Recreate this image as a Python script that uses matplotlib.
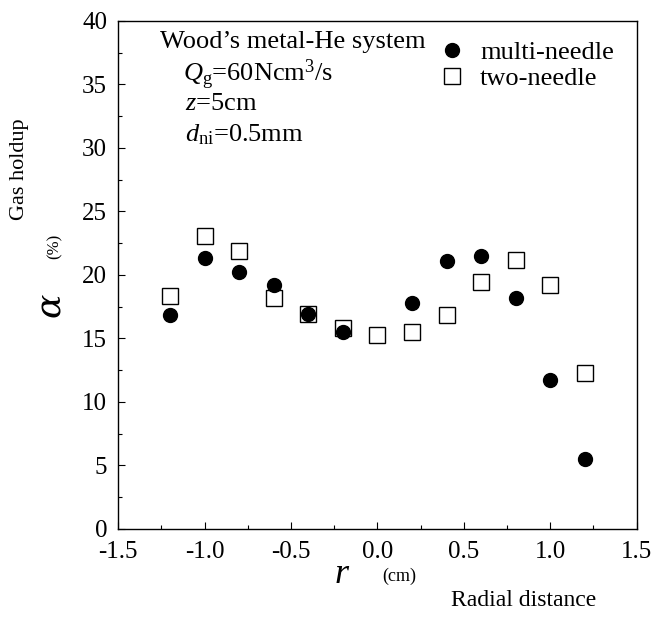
import matplotlib
matplotlib.use("Agg")
import matplotlib.pyplot as plt
from matplotlib.ticker import MultipleLocator, FormatStrFormatter

plt.rcParams["font.family"] = ["Liberation Serif", "DejaVu Serif"]
plt.rcParams["mathtext.fontset"] = "custom"
plt.rcParams["mathtext.rm"] = "Liberation Serif"
plt.rcParams["mathtext.it"] = "Liberation Serif:italic"

# radial positions (cm) and gas holdup (%)
r_multi = [-1.2, -1.0, -0.8, -0.6, -0.4, -0.2, 0.2, 0.4, 0.6, 0.8, 1.0, 1.2]
alpha_multi = [16.8, 21.3, 20.2, 19.2, 16.9, 15.5, 17.8, 21.1, 21.5, 18.2, 11.7, 5.5]

r_two = [-1.2, -1.0, -0.8, -0.6, -0.4, -0.2, 0.0, 0.2, 0.4, 0.6, 0.8, 1.0, 1.2]
alpha_two = [18.3, 23.1, 21.9, 18.2, 16.9, 15.8, 15.3, 15.5, 16.8, 19.4, 21.2, 19.2, 12.3]

fig = plt.figure(figsize=(6.53, 6.17), dpi=100)
ax = fig.add_axes([0.181, 0.143, 0.794, 0.823])

ax.plot(r_multi, alpha_multi, "o", color="black", markersize=10,
        linestyle="none", label="multi-needle", zorder=3)
ax.plot(r_two, alpha_two, "s", markerfacecolor="white", markeredgecolor="black",
        markeredgewidth=1.0, markersize=11, linestyle="none",
        label="two-needle", zorder=2)

ax.set_xlim(-1.5, 1.5)
ax.set_ylim(0, 40)
ax.xaxis.set_major_locator(MultipleLocator(0.5))
ax.xaxis.set_minor_locator(MultipleLocator(0.25))
ax.yaxis.set_major_locator(MultipleLocator(5))
ax.yaxis.set_minor_locator(MultipleLocator(2.5))
ax.xaxis.set_major_formatter(FormatStrFormatter("%.1f"))
ax.tick_params(which="both", direction="in", top=False, right=False,
               labelsize=18, width=0.8)
ax.tick_params(which="major", length=5)
ax.tick_params(which="minor", length=3)
ax.tick_params(axis="x", which="major", pad=9)
ax.tick_params(axis="y", which="major", pad=8)
for s in ax.spines.values():
    s.set_linewidth(1.0)

leg = ax.legend(loc="upper left", bbox_to_anchor=(0.619, 0.962), frameon=False,
                fontsize=19, handletextpad=0.55, labelspacing=0.1,
                borderaxespad=0, borderpad=0, handlelength=1.0)

# annotation block
ax.text(0.081, 0.947, "Wood\u2019s metal-He system", transform=ax.transAxes,
        fontsize=19, va="baseline", ha="left")
ax.text(0.125, 0.882, r"$Q_{\mathrm{g}}$=60Ncm$^3$/s", transform=ax.transAxes,
        fontsize=19, va="baseline", ha="left")
ax.text(0.129, 0.825, r"$z$=5cm", transform=ax.transAxes,
        fontsize=19, va="baseline", ha="left")
ax.text(0.129, 0.762, r"$d_{\mathrm{ni}}$=0.5mm", transform=ax.transAxes,
        fontsize=19, va="baseline", ha="left")

# axis labels
fig.text(0.030, 0.726, "Gas holdup", rotation=90, fontsize=16,
         ha="center", va="center")
fig.text(0.076, 0.506, "\u03b1", rotation=90, fontsize=26, style="italic",
         family="DejaVu Serif", ha="center", va="center")
fig.text(0.083, 0.600, "(%)", rotation=90, fontsize=12,
         ha="center", va="center")
fig.text(0.524, 0.069, r"$r$", fontsize=26, ha="center", va="center")
fig.text(0.612, 0.066, "(cm)", fontsize=13, ha="center", va="center")
fig.text(0.802, 0.027, "Radial distance", fontsize=17, ha="center", va="center")

fig.savefig("out.png", dpi=100)
